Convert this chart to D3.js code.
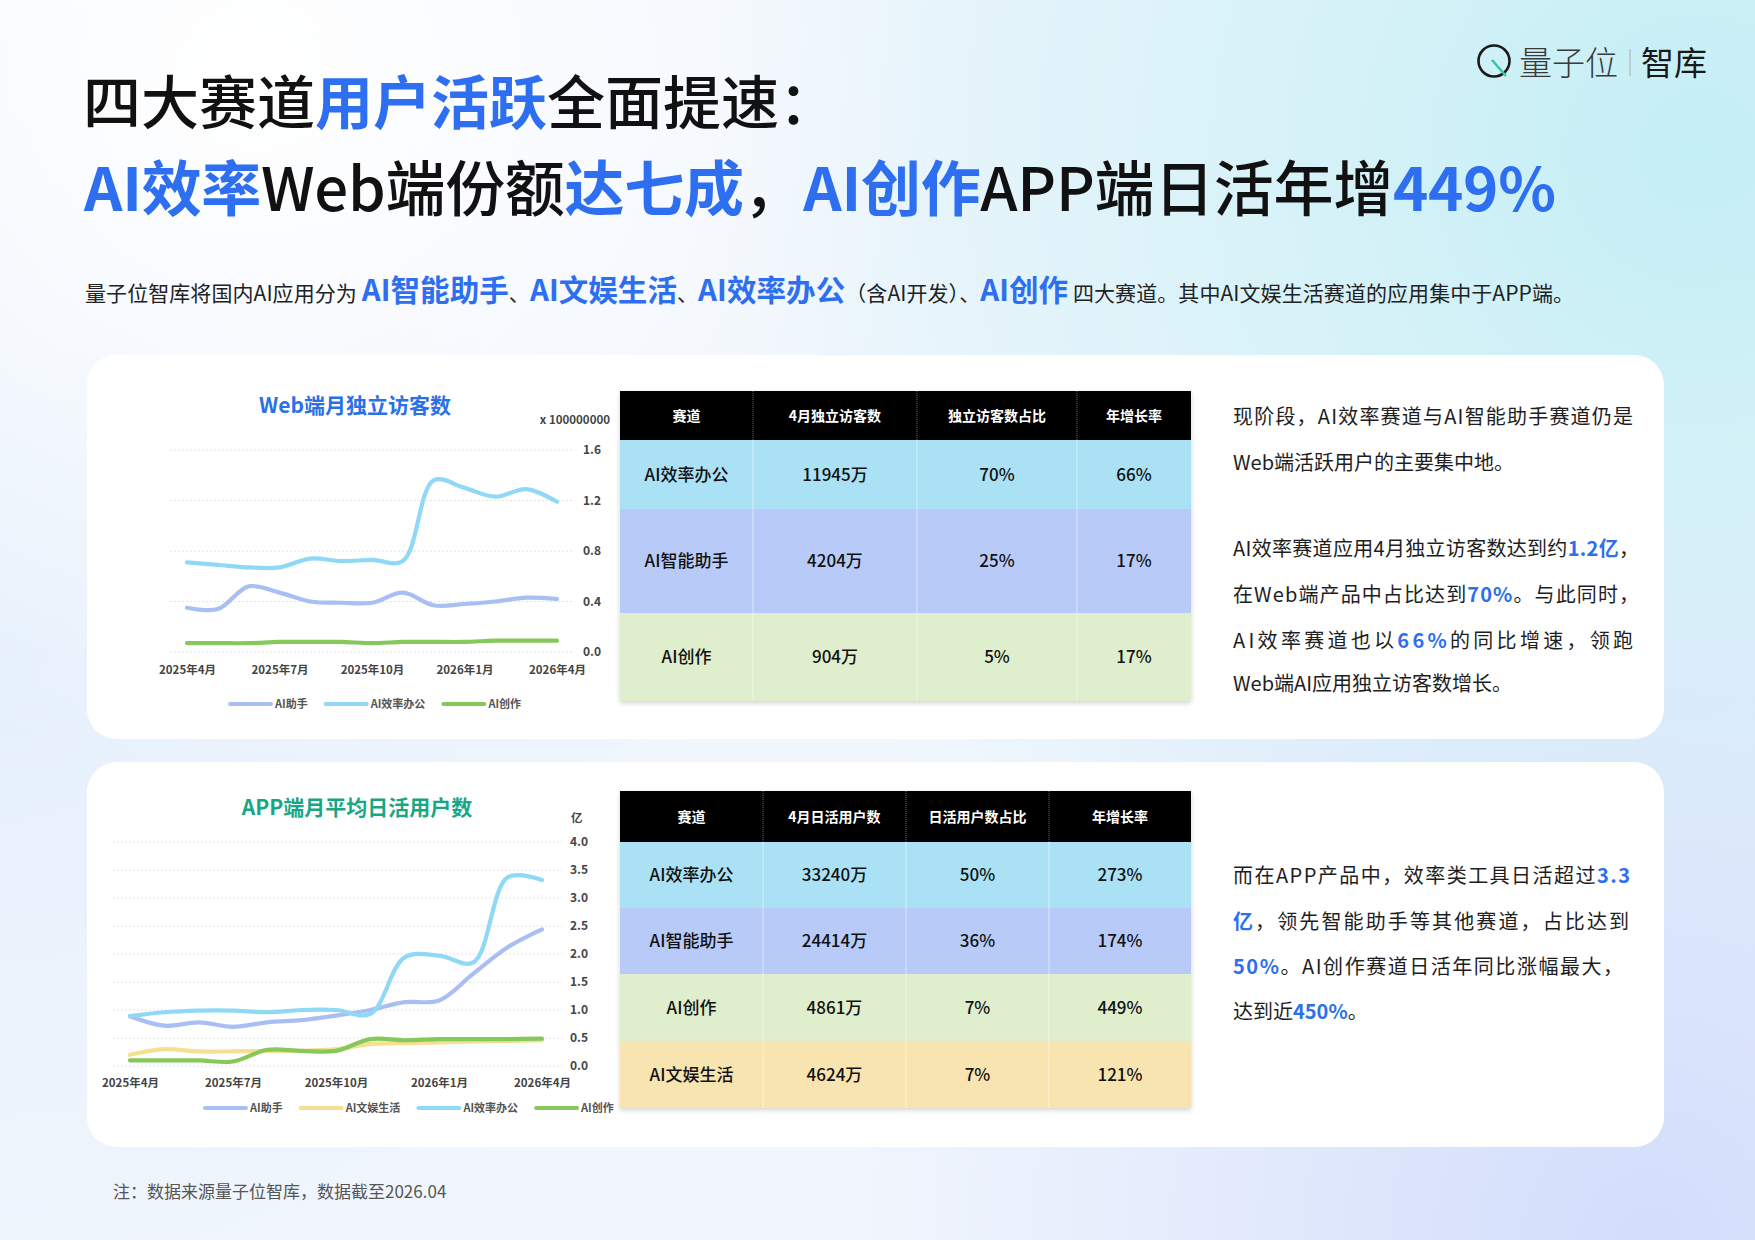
<!DOCTYPE html>
<html>
<head>
<meta charset="utf-8">
<script src="https://cdn.jsdelivr.net/npm/d3@7"></script>
<style>
  body { margin: 0; background: #f5f8fd; }
  svg text { font-family: "Noto Sans CJK SC", "Noto Sans", sans-serif; }
</style>
</head>
<body>
<div id="page"></div>
<script>
// ---- datos ----
const months = ["2025年4月", "2025年5月", "2025年6月", "2025年7月", "2025年8月", "2025年9月", "2025年10月",
  "2025年11月", "2025年12月", "2026年1月", "2026年2月", "2026年3月", "2026年4月"];
const tickMonths = ["2025年4月", "2025年7月", "2025年10月", "2026年1月", "2026年4月"];

// Web端月独立访客数 (x 100000000)
const webAssistant = [0.35, 0.34, 0.52, 0.47, 0.40, 0.39, 0.39, 0.47, 0.37, 0.38, 0.40, 0.43, 0.42];
const webOffice = [0.71, 0.69, 0.67, 0.67, 0.74, 0.72, 0.73, 0.72, 1.36, 1.30, 1.23, 1.29, 1.19];
const webCreate = [0.07, 0.07, 0.07, 0.08, 0.08, 0.08, 0.07, 0.08, 0.08, 0.08, 0.09, 0.09, 0.09];
const webTicks = [0, 0.4, 0.8, 1.2, 1.6];

// APP端月平均日活用户数 (亿)
const appAssistant = [0.89, 0.72, 0.78, 0.70, 0.78, 0.82, 0.90, 1.00, 1.14, 1.17, 1.65, 2.12, 2.44];
const appLife = [0.20, 0.30, 0.26, 0.26, 0.27, 0.27, 0.30, 0.39, 0.41, 0.42, 0.44, 0.45, 0.46];
const appOffice = [0.89, 0.96, 0.99, 0.99, 0.96, 1.00, 1.00, 0.93, 1.94, 1.97, 1.85, 3.37, 3.32];
const appCreate = [0.10, 0.10, 0.10, 0.08, 0.29, 0.27, 0.27, 0.48, 0.46, 0.48, 0.48, 0.48, 0.49];
const appTicks = [0, 0.5, 1.0, 1.5, 2.0, 2.5, 3.0, 3.5, 4.0];

// tablas
const webHeader = ["赛道", "4月独立访客数", "独立访客数占比", "年增长率"];
const webTracks = ["AI效率办公", "AI智能助手", "AI创作"];
const webVisitors = ["11945万", "4204万", "904万"];
const webShare = ["70%", "25%", "5%"];
const webGrowth = ["66%", "17%", "17%"];

const appHeader = ["赛道", "4月日活用户数", "日活用户数占比", "年增长率"];
const appTracks = ["AI效率办公", "AI智能助手", "AI创作", "AI文娱生活"];
const appUsers = ["33240万", "24414万", "4861万", "4624万"];
const appShare = ["50%", "36%", "7%", "7%"];
const appGrowth = ["273%", "174%", "449%", "121%"];

// colores
const colores = {
  "AI助手": "#a9bef3", "AI智能助手": "#a9bef3",
  "AI效率办公": "#8fd8f6", "AI创作": "#86c95a", "AI文娱生活": "#f5df90"
};
const filaColor = {
  "AI效率办公": "#abe1f5", "AI智能助手": "#b8cbf8", "AI创作": "#dfeecc", "AI文娱生活": "#f8e4b0"
};
const azul = "#2d6ff0";

const W = 1755, H = 1240;
const svg = d3.select("#page").append("svg").attr("width", W).attr("height", H);
const defs = svg.append("defs");

function radial(id, cx, cy, r, color, op) {
  const g = defs.append("radialGradient").attr("id", id)
    .attr("gradientUnits", "userSpaceOnUse")
    .attr("cx", cx).attr("cy", cy).attr("r", r);
  g.append("stop").attr("offset", 0).attr("stop-color", color).attr("stop-opacity", op);
  g.append("stop").attr("offset", 1).attr("stop-color", color).attr("stop-opacity", 0);
}
radial("bgCyan", 1700, 150, 1000, "#c4eff5", 1);
radial("bgLav", 1650, 1240, 800, "#d3ddfb", 1);
radial("bgLeft", 0, 650, 700, "#e4effc", 0.9);
radial("bgWhite", 250, 80, 700, "#ffffff", 1);

const sh = defs.append("filter").attr("id", "sombra").attr("x", -0.05).attr("y", -0.05).attr("width", 1.1).attr("height", 1.15);
sh.append("feDropShadow").attr("dx", 0).attr("dy", 2).attr("stdDeviation", 2.5)
  .attr("flood-color", "#000").attr("flood-opacity", 0.18);

svg.append("rect").attr("width", W).attr("height", H).attr("fill", "#f1f6fd");
["bgCyan", "bgLav", "bgLeft", "bgWhite"].forEach((id) => {
  svg.append("rect").attr("width", W).attr("height", H).attr("fill", "url(#" + id + ")");
});

// ---- logo ----
const logo = svg.append("g").attr("transform", "translate(1477,44)");
logo.append("circle").attr("cx", 17).attr("cy", 17).attr("r", 15.5)
  .attr("fill", "none").attr("stroke", "#1a1a1a").attr("stroke-width", 2.6);
logo.append("line").attr("x1", 15).attr("y1", 16).attr("x2", 29).attr("y2", 32)
  .attr("stroke", "#3cc3a4").attr("stroke-width", 2.6);
logo.append("text").attr("x", 42).attr("y", 31).attr("font-size", 33).attr("font-weight", 300)
  .attr("fill", "#3a3a3a").text("量子位");
logo.append("line").attr("x1", 153).attr("y1", 5).attr("x2", 153).attr("y2", 32)
  .attr("stroke", "#aaa").attr("stroke-width", 1);
logo.append("text").attr("x", 164).attr("y", 31).attr("font-size", 33).attr("font-weight", 400)
  .attr("fill", "#1a1a1a").text("智库");

// ---- texto con segmentos ----
function linea(x, y, segs, opts) {
  const t = svg.append("text").attr("x", x).attr("y", y)
    .attr("font-size", opts.size).attr("fill", opts.color || "#1a1a1a")
    .attr("font-weight", opts.weight || 400);
  segs.forEach((s) => {
    const sp = t.append("tspan").text(s[0]);
    if (s[1]) {
      sp.attr("fill", azul).attr("font-weight", 700);
      if (s[1] !== true) sp.attr("font-size", s[1]);
    }
  });
  if (opts.width) t.attr("textLength", opts.width).attr("lengthAdjust", "spacing");
  return t;
}

// titulo
linea(83, 124, [["四大赛道"], ["用户活跃", true], ["全面提速："]], { size: 58, weight: 500, color: "#111" });
linea(84, 211, [["AI效率", true], ["Web端份额"], ["达七成", true], ["，"], ["AI创作", true], ["APP端日活年增"], ["449%", true]],
  { size: 60, weight: 500, color: "#111", width: 1472 });

// subtitulo
linea(85, 301, [["量子位智库将国内AI应用分为 "], ["AI智能助手", 29.5], ["、"], ["AI文娱生活", 29.5], ["、"], ["AI效率办公", 29.5],
  ["（含AI开发）、"], ["AI创作", 29.5], [" 四大赛道。其中AI文娱生活赛道的应用集中于APP端。"]], { size: 21, color: "#222", width: 1489 });

// tarjetas
[[355, 739], [762, 1147]].forEach((c) => {
  svg.append("rect").attr("x", 87).attr("y", c[0]).attr("width", 1577).attr("height", c[1] - c[0])
    .attr("rx", 30).attr("fill", "#fff");
});

// ---- grafica de lineas ----
function grafica(cfg) {
  const g = svg.append("g");
  const x = d3.scalePoint().domain(months).range([cfg.x0, cfg.x1]);
  const y = d3.scaleLinear().domain([0, d3.max(cfg.ticks)]).range([cfg.yBottom, cfg.yTop]);

  g.append("text").attr("x", cfg.titleX).attr("y", cfg.titleY).attr("text-anchor", "middle")
    .attr("font-size", 21).attr("font-weight", 700).attr("fill", cfg.titleColor).text(cfg.title);
  g.append("text").attr("x", cfg.unitX).attr("y", cfg.unitY).attr("text-anchor", cfg.unitAnchor)
    .attr("font-size", 11.5).attr("font-weight", 700).attr("fill", "#444").text(cfg.unit);

  // rejilla
  g.selectAll("line.grid").data(cfg.ticks).enter().append("line")
    .attr("x1", cfg.gridX0).attr("x2", cfg.gridX1)
    .attr("y1", (d) => y(d)).attr("y2", (d) => y(d))
    .attr("stroke", "#e2e2e2").attr("stroke-width", 1).attr("stroke-dasharray", "2,2");

  // eje y
  const ey = g.append("g").attr("transform", "translate(" + cfg.gridX1 + ",0)")
    .call(d3.axisRight(y).tickValues(cfg.ticks).tickFormat(d3.format(".1f")).tickSize(0).tickPadding(cfg.yPad));
  ey.select(".domain").remove();
  ey.selectAll("text").attr("font-size", 12).attr("font-weight", 700).attr("fill", "#444")
    .attr("font-family", "'Noto Sans CJK SC', sans-serif");

  // eje x
  const ex = g.append("g").attr("transform", "translate(0," + cfg.yBottom + ")")
    .call(d3.axisBottom(x).tickValues(tickMonths).tickSize(0).tickPadding(cfg.xPad));
  ex.select(".domain").remove();
  ex.selectAll("text").attr("font-size", 11.5).attr("font-weight", 700).attr("fill", "#444")
    .attr("font-family", "'Noto Sans CJK SC', sans-serif");

  const line = d3.line().x((d, i) => x(months[i])).y((d) => y(d)).curve(d3.curveCatmullRom.alpha(0.5));
  cfg.series.forEach((s) => {
    g.append("path").datum(s.values).attr("d", line).attr("fill", "none")
      .attr("stroke", colores[s.name]).attr("stroke-width", 4.2)
      .attr("stroke-linecap", "round").attr("stroke-linejoin", "round");
  });

  // leyenda
  let lx = cfg.legendX;
  cfg.legendOrder.forEach((s) => {
    g.append("line").attr("x1", lx).attr("x2", lx + 41).attr("y1", cfg.legendY).attr("y2", cfg.legendY)
      .attr("stroke", colores[s.name]).attr("stroke-width", 4).attr("stroke-linecap", "round");
    const t = g.append("text").attr("x", lx + 45).attr("y", cfg.legendY + 4)
      .attr("font-size", 11).attr("font-weight", 700).attr("fill", "#555").text(s.name);
    lx += 45 + t.node().getComputedTextLength() + 18;
  });
}

const webSeries = [
  { name: "AI创作", values: webCreate },
  { name: "AI助手", values: webAssistant },
  { name: "AI效率办公", values: webOffice }
];
grafica({
  title: "Web端月独立访客数", titleX: 355, titleY: 413, titleColor: "#2a70e6",
  unit: "x 100000000", unitX: 610, unitY: 424, unitAnchor: "end",
  x0: 187, x1: 557, yTop: 450, yBottom: 652, ticks: webTicks,
  gridX0: 170, gridX1: 574, yPad: 9, xPad: 14,
  series: webSeries,
  legendX: 230, legendY: 704,
  legendOrder: [webSeries[1], webSeries[2], webSeries[0]]
});

const appSeries = [
  { name: "AI文娱生活", values: appLife },
  { name: "AI创作", values: appCreate },
  { name: "AI助手", values: appAssistant },
  { name: "AI效率办公", values: appOffice }
];
grafica({
  title: "APP端月平均日活用户数", titleX: 357, titleY: 815, titleColor: "#18a785",
  unit: "亿", unitX: 571, unitY: 822, unitAnchor: "start",
  x0: 130, x1: 542, yTop: 842, yBottom: 1066, ticks: appTicks,
  gridX0: 113, gridX1: 562, yPad: 8, xPad: 13,
  series: appSeries,
  legendX: 205, legendY: 1108,
  legendOrder: [appSeries[2], appSeries[0], appSeries[3], appSeries[1]]
});

// ---- tablas ----
function tabla(cfg) {
  const g = svg.append("g");
  const cols = cfg.cols;
  const rows = cfg.tracks.map((t, i) => [t, cfg.c1[i], cfg.c2[i], cfg.c3[i]]);
  const yEdges = cfg.rowEdges;
  g.append("rect").attr("x", cols[0]).attr("y", yEdges[0]).attr("width", cols[4] - cols[0])
    .attr("height", yEdges[yEdges.length - 1] - yEdges[0]).attr("fill", "#fff").attr("filter", "url(#sombra)");
  g.append("rect").attr("x", cols[0]).attr("y", yEdges[0]).attr("width", cols[4] - cols[0])
    .attr("height", yEdges[1] - yEdges[0]).attr("fill", "#000");
  cfg.header.forEach((h, j) => {
    g.append("text").attr("x", (cols[j] + cols[j + 1]) / 2).attr("y", (yEdges[0] + yEdges[1]) / 2 + 5)
      .attr("text-anchor", "middle").attr("font-size", 14).attr("font-weight", 700)
      .attr("fill", "#fff").text(h);
  });
  rows.forEach((r, i) => {
    g.append("rect").attr("x", cols[0]).attr("y", yEdges[i + 1]).attr("width", cols[4] - cols[0])
      .attr("height", yEdges[i + 2] - yEdges[i + 1]).attr("fill", filaColor[r[0]]);
    r.forEach((v, j) => {
      g.append("text").attr("x", (cols[j] + cols[j + 1]) / 2).attr("y", (yEdges[i + 1] + yEdges[i + 2]) / 2 + 6)
        .attr("text-anchor", "middle").attr("font-size", 17).attr("font-weight", 500)
        .attr("fill", "#111").text(v);
    });
  });
  [1, 2, 3].forEach((j) => {
    g.append("line").attr("x1", cols[j]).attr("x2", cols[j]).attr("y1", yEdges[0]).attr("y2", yEdges[1])
      .attr("stroke", "#666").attr("stroke-width", 1).attr("stroke-dasharray", "1,1");
    g.append("line").attr("x1", cols[j]).attr("x2", cols[j]).attr("y1", yEdges[1]).attr("y2", yEdges[yEdges.length - 1])
      .attr("stroke", "#fff").attr("stroke-opacity", 0.5).attr("stroke-width", 1);
  });
}

tabla({
  header: webHeader, tracks: webTracks, c1: webVisitors, c2: webShare, c3: webGrowth,
  cols: [620, 753, 917, 1077, 1191], rowEdges: [391, 440, 509, 613, 701]
});
tabla({
  header: appHeader, tracks: appTracks, c1: appUsers, c2: appShare, c3: appGrowth,
  cols: [620, 763, 906, 1049, 1191], rowEdges: [791, 842, 908, 974, 1041, 1108]
});

// ---- textos a la derecha ----
const ts = { size: 20, color: "#1e1e1e" };
linea(1233, 424, [["现阶段，AI效率赛道与AI智能助手赛道仍是"]], Object.assign({ width: 400 }, ts));
linea(1233, 470, [["Web端活跃用户的主要集中地。"]], ts);
linea(1233, 556, [["AI效率赛道应用4月独立访客数达到约"], ["1.2亿", true], ["，"]], Object.assign({ width: 406 }, ts));
linea(1233, 602, [["在Web端产品中占比达到"], ["70%", true], ["。与此同时，"]], Object.assign({ width: 406 }, ts));
linea(1233, 648, [["AI效率赛道也以"], ["66%", true], ["的同比增速，领跑"]], Object.assign({ width: 400 }, ts));
linea(1233, 691, [["Web端AI应用独立访客数增长。"]], ts);

linea(1233, 883, [["而在APP产品中，效率类工具日活超过"], ["3.3", true]], Object.assign({ width: 397 }, ts));
linea(1233, 929, [["亿", true], ["，领先智能助手等其他赛道，占比达到"]], Object.assign({ width: 396 }, ts));
linea(1233, 974, [["50%", true], ["。AI创作赛道日活年同比涨幅最大，"]], Object.assign({ width: 390 }, ts));
linea(1233, 1019, [["达到近"], ["450%", true], ["。"]], ts);

// nota
linea(113, 1198, [["注：数据来源量子位智库，数据截至2026.04"]], { size: 17, color: "#555" });
</script>
</body>
</html>
